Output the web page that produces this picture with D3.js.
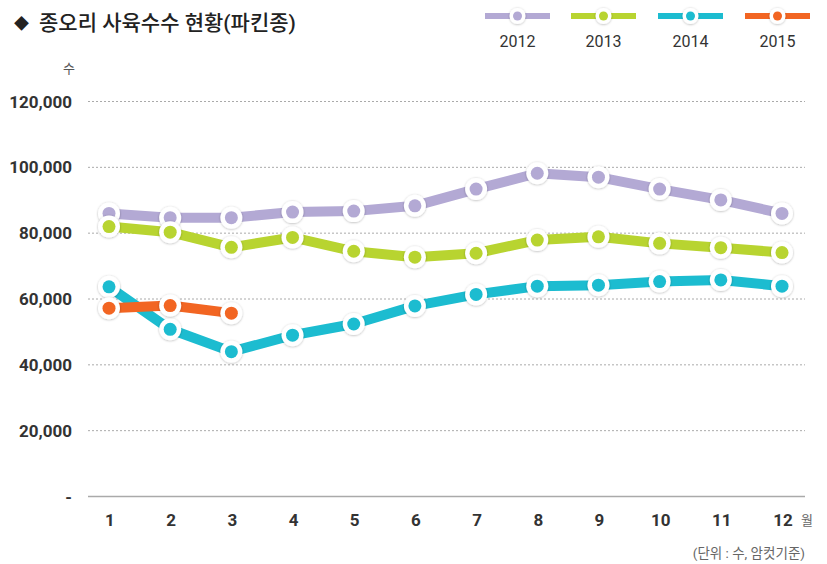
<!DOCTYPE html>
<html>
<head>
<meta charset="utf-8">
<script src="https://cdn.jsdelivr.net/npm/d3@7"></script>
<style>
  body { margin: 0; background: #fff; }
  text { font-family: Roboto, "Noto Sans CJK KR", sans-serif; }
</style>
</head>
<body>
<div id="chart"></div>
<script>
// data
var months = [1, 2, 3, 4, 5, 6, 7, 8, 9, 10, 11, 12];
var yTicks = [0, 20000, 40000, 60000, 80000, 100000, 120000];
var years = ["2012", "2013", "2014", "2015"];
var colors = ["#b3a9d4", "#b8d430", "#1cbcd0", "#f26522"];
var v2012 = [86000, 84700, 84700, 86400, 86700, 88300, 93400, 98200, 97000, 93400, 90100, 86000];
var v2013 = [82000, 80300, 75700, 78700, 74500, 72700, 73900, 77900, 78900, 76900, 75600, 74100];
var v2014 = [63700, 50800, 44000, 49000, 52400, 57900, 61400, 63900, 64200, 65300, 65800, 63900];
var v2015 = [57200, 58000, 55700];
var series = [v2012, v2013, v2014, v2015];

var width = 827, height = 564;

var svg = d3.select("#chart").append("svg")
  .attr("width", width)
  .attr("height", height);

// soft shadow for the white marker rings
var defs = svg.append("defs");
var f = defs.append("filter").attr("id", "shadow")
  .attr("x", "-50%").attr("y", "-50%").attr("width", "200%").attr("height", "200%");
f.append("feDropShadow")
  .attr("dx", 0).attr("dy", 0.5)
  .attr("stdDeviation", 1.2)
  .attr("flood-color", "#000")
  .attr("flood-opacity", 0.3);

var x = d3.scaleLinear().domain([1, 12]).range([109, 782]);
var y = d3.scaleLinear().domain([0, 120000]).range([496.5, 101.5]);

// title
svg.append("text")
  .attr("x", 14).attr("y", 29)
  .attr("font-size", 15)
  .attr("fill", "#222")
  .text("◆");
svg.append("text")
  .attr("x", 39).attr("y", 30)
  .attr("font-family", "'Noto Sans CJK KR', sans-serif")
  .attr("font-size", 21)
  .attr("font-weight", 500)
  .attr("fill", "#222")
  .text("종오리 사육수수 현황(파킨종)");

// gridlines
svg.append("g")
  .selectAll("line")
  .data(yTicks.filter(function(d) { return d > 0; }))
  .join("line")
  .attr("x1", 88).attr("x2", 805)
  .attr("y1", function(d) { return y(d); })
  .attr("y2", function(d) { return y(d); })
  .attr("stroke", "#aaa")
  .attr("stroke-width", 1)
  .attr("stroke-dasharray", "2,2");

// baseline
svg.append("line")
  .attr("x1", 88).attr("x2", 805)
  .attr("y1", y(0)).attr("y2", y(0))
  .attr("stroke", "#aaa")
  .attr("stroke-width", 1.5);

// y axis labels
svg.append("g")
  .selectAll("text")
  .data(yTicks)
  .join("text")
  .attr("x", 72)
  .attr("y", function(d) { return y(d) + 6; })
  .attr("text-anchor", "end")
  .attr("font-size", 17)
  .attr("font-weight", 700)
  .attr("fill", "#333")
  .text(function(d) { return d === 0 ? "-" : d3.format(",")(d); });

svg.append("text")
  .attr("x", 69).attr("y", 73)
  .attr("text-anchor", "middle")
  .attr("font-family", "'Noto Sans CJK KR', sans-serif")
  .attr("font-size", 13)
  .attr("fill", "#555")
  .text("수");

// x axis labels
svg.append("g")
  .selectAll("text")
  .data(months)
  .join("text")
  .attr("x", function(d) { return x(d) + 1; })
  .attr("y", 526)
  .attr("text-anchor", "middle")
  .attr("font-size", 17)
  .attr("font-weight", 700)
  .attr("fill", "#333")
  .text(function(d) { return d; });

svg.append("text")
  .attr("x", 807).attr("y", 525)
  .attr("text-anchor", "middle")
  .attr("font-family", "'Noto Sans CJK KR', sans-serif")
  .attr("font-size", 13)
  .attr("fill", "#666")
  .text("월");

svg.append("text")
  .attr("x", 805).attr("y", 558)
  .attr("text-anchor", "end")
  .attr("font-family", "'Noto Sans CJK KR', sans-serif")
  .attr("font-size", 13.5)
  .attr("fill", "#666")
  .text("(단위 : 수, 암컷기준)");

// lines
var line = d3.line()
  .x(function(d, i) { return x(months[i]); })
  .y(function(d) { return y(d); });

series.forEach(function(vals, k) {
  var g = svg.append("g");
  g.append("path")
    .datum(vals)
    .attr("d", line)
    .attr("fill", "none")
    .attr("stroke", colors[k])
    .attr("stroke-width", 10)
    .attr("stroke-linejoin", "round");

  var pts = g.selectAll("g.pt")
    .data(vals)
    .join("g")
    .attr("class", "pt")
    .attr("transform", function(d, i) { return "translate(" + x(months[i]) + "," + y(d) + ")"; });
  pts.append("circle")
    .attr("r", 11)
    .attr("fill", "#fff")
    .attr("filter", "url(#shadow)");
  pts.append("circle")
    .attr("r", 6.5)
    .attr("fill", colors[k]);
});

// legend
var legX = [485, 571, 658, 745];
var leg = svg.append("g")
  .selectAll("g")
  .data(years)
  .join("g")
  .attr("transform", function(d, i) { return "translate(" + legX[i] + ",0)"; });
leg.append("rect")
  .attr("x", 0).attr("y", 13)
  .attr("width", 65).attr("height", 6)
  .attr("fill", function(d, i) { return colors[i]; });
leg.append("circle")
  .attr("cx", 32.5).attr("cy", 16)
  .attr("r", 8)
  .attr("fill", "#fff")
  .attr("filter", "url(#shadow)");
leg.append("circle")
  .attr("cx", 32.5).attr("cy", 16)
  .attr("r", 4.5)
  .attr("fill", function(d, i) { return colors[i]; });
leg.append("text")
  .attr("x", 32.5).attr("y", 47)
  .attr("text-anchor", "middle")
  .attr("font-size", 16)
  .attr("fill", "#333")
  .text(function(d) { return d; });
</script>
</body>
</html>
